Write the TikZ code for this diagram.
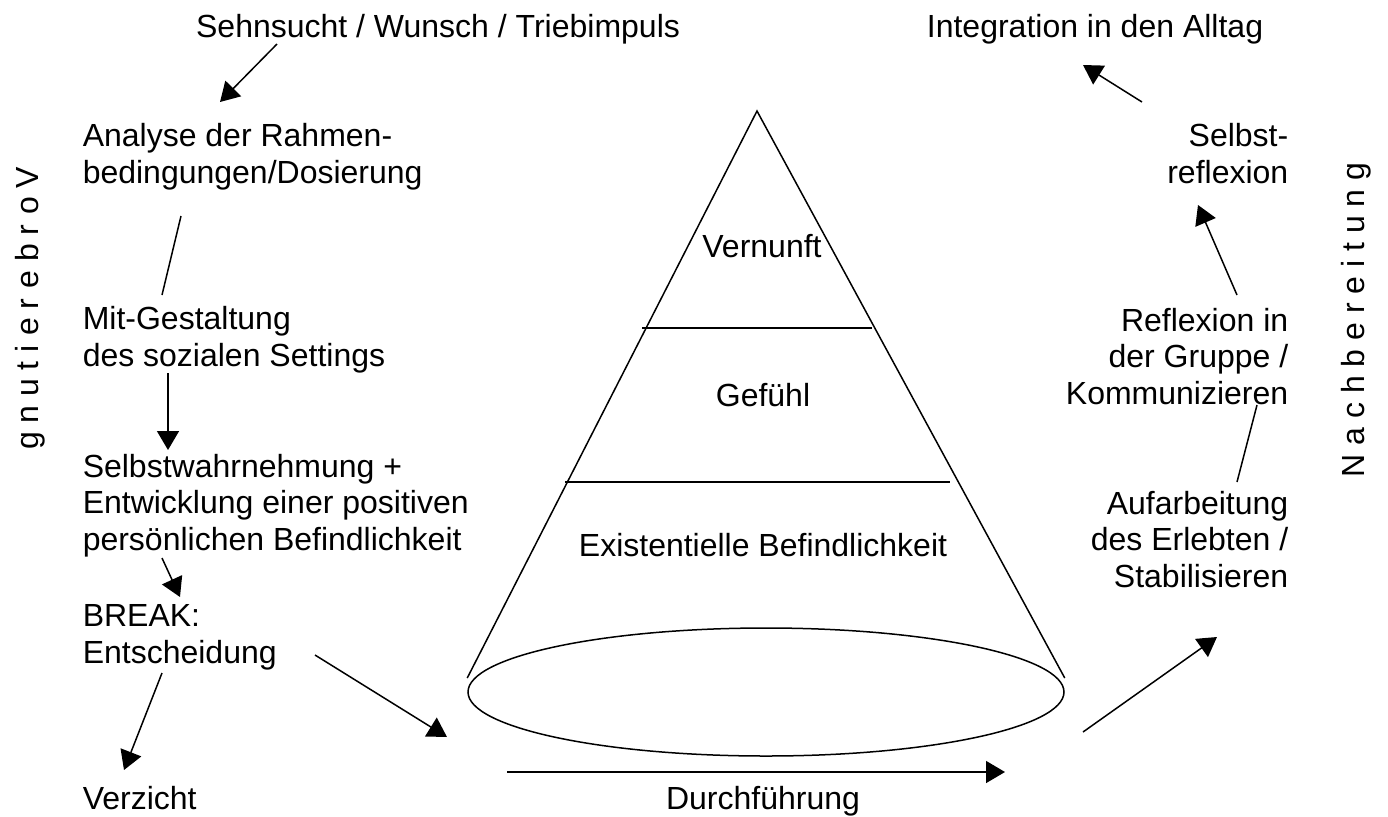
\documentclass[tikz,border=0pt]{standalone}
\usepackage{fontspec}
\setmainfont{Liberation Sans}
\usetikzlibrary{arrows.meta,shapes.geometric}

\tikzset{
  txt/.style={inner sep=0pt,font=\fontsize{16}{18.2}\selectfont},
  lft/.style={txt,align=left,anchor=base west},
  rgt/.style={txt,align=right,anchor=base east},
  mid/.style={txt,anchor=base},
  vlet/.style={txt,rotate=90,anchor=base},
  arr/.style={-{Triangle[length=9.5pt,width=11pt]}}
}

\begin{document}
\begin{tikzpicture}[x=0.5pt,y=-0.5pt,line width=0.75pt]
\useasboundingbox (0,0) rectangle (1388,816);

% Vorbereitung (base = last line)
\node[mid](sehn) at (438,37){Sehnsucht / Wunsch / Triebimpuls};
\node[lft](ana) at (82,183){Analyse der Rahmen-\\bedingungen/Dosierung};
\node[lft](mit) at (82,366){Mit-Gestaltung\\des sozialen Settings};
\node[lft](selbstw) at (82,550){Selbstwahrnehmung +\\Entwicklung einer positiven\\persönlichen Befindlichkeit};
\node[lft](brk) at (82,663){BREAK:\\Entscheidung};
\node[lft](verz) at (82,809){Verzicht};
\foreach \ch/\yy [count=\k] in {V/178,o/206,r/230,b/253,e/280,r/304,e/327,i/349,t/366,u/388,n/415,g/441}
  \node[vlet](vor\k) at (39,\yy){\ch};

% cone
\coordinate (apex) at (757,111);
\node[draw,ellipse,inner sep=0pt,minimum width=298pt,minimum height=64pt](base) at (766,692){};
\coordinate (bl) at ([yshift=7pt]base.west);
\coordinate (br) at ([yshift=7pt]base.east);
\draw (bl)--(apex)--(br);
\draw (642,328)--(872,328)
(565,482)--(950,482);
\node[mid](vern) at (762,257){Vernunft};
\node[mid](gef) at (763,406){Gefühl};
\node[mid](exist) at (763,556){Existentielle Befindlichkeit};
\node[mid](durch) at (763,809){Durchführung};

% Nachbereitung
\node[mid](integ) at (1095,37){Integration in den Alltag};
\node[rgt](sref) at (1289,183){Selbst-\\reflexion};
\node[rgt](gref) at (1289,404){Reflexion in\\der Gruppe /\\Kommunizieren};
\node[rgt](aufa) at (1289,587){Aufarbeitung\\des Erlebten /\\Stabilisieren};
\node[vlet](nach) at (1364,320){N a c h b e r e i t u n g};

% arrow ends
\coordinate (sehn-out) at (277,44);
\coordinate (ana-in) at (220,102);
\coordinate (ana-out) at (181,216);
\coordinate (mit-in) at (162,295);
\coordinate (mit-out) at (168,373);
\coordinate (selbstw-in) at (168,450);
\coordinate (selbstw-out) at (162,558);
\coordinate (brk-in) at (180,597);
\coordinate (brk-out) at (162,673);
\coordinate (verz-in) at (124,770);
\coordinate (brk-go) at (315,655);
\coordinate (base-in) at (447,737);
\coordinate (durch-a) at (507,772);
\coordinate (durch-b) at (1005,772);
\coordinate (base-out) at (1083,732);
\coordinate (aufa-in) at (1217,637);
\coordinate (aufa-out) at (1237,482);
\coordinate (gref-in) at (1257,405);
\coordinate (gref-out) at (1237,295);
\coordinate (sref-in) at (1198,205);
\coordinate (sref-out) at (1142,102);
\coordinate (integ-in) at (1083,65);

\draw[arr](sehn-out)--(ana-in);
\draw(ana-out)--(mit-in);
\draw[arr](mit-out)--(selbstw-in);
\draw[arr](selbstw-out)--(brk-in);
\draw[arr](brk-out)--(verz-in);
\draw[arr](brk-go)--(base-in);
\draw[arr](durch-a)--(durch-b);
\draw[arr](base-out)--(aufa-in);
\draw(aufa-out)--(gref-in);
\draw[arr](gref-out)--(sref-in);
\draw[arr](sref-out)--(integ-in);
\end{tikzpicture}
\end{document}
